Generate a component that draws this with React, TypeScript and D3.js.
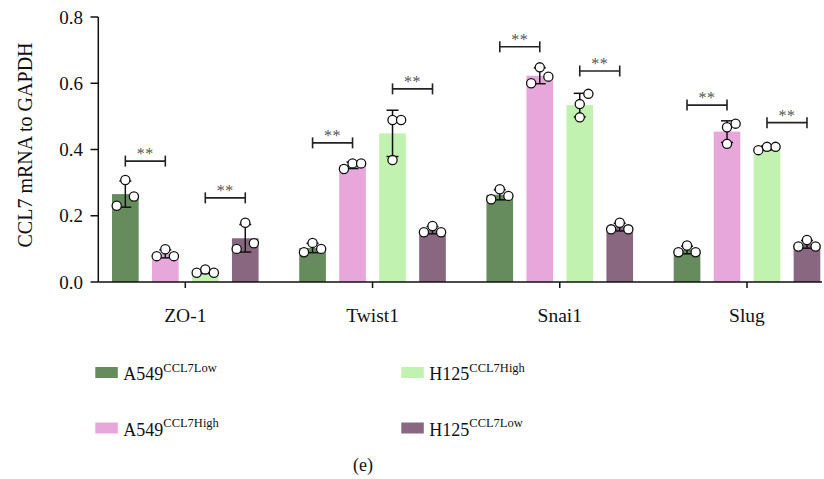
import * as d3 from "d3";

const genes = ["ZO-1", "Twist1", "Snai1", "Slug"];
const seriesCell = ["A549", "A549", "H125", "H125"];
const seriesTag = ["CCL7Low", "CCL7High", "CCL7High", "CCL7Low"];
const seriesColors = ["#668b5d", "#e8a7db", "#c2f2b0", "#8a6780"];

// replicate values, one array per gene, one triplet per series
const zo1 = [
  [0.23, 0.308, 0.258],
  [0.078, 0.099, 0.078],
  [0.028, 0.038, 0.028],
  [0.1, 0.179, 0.117],
];
const twist1 = [
  [0.09, 0.118, 0.1],
  [0.341, 0.358, 0.358],
  [0.489, 0.489, 0.368],
  [0.15, 0.169, 0.15],
];
const snai1 = [
  [0.25, 0.28, 0.26],
  [0.6, 0.648, 0.62],
  [0.537, 0.568, 0.497],
  [0.159, 0.179, 0.159],
];
const slug = [
  [0.09, 0.11, 0.09],
  [0.467, 0.478, 0.417],
  [0.398, 0.408, 0.408],
  [0.107, 0.127, 0.107],
];
const replicates = [zo1, twist1, snai1, slug];

// horizontal slot of each replicate dot (-1 left, 0 centre, 1 right)
const defaultSlots = [-1, 0, 1];
const stackedSlots = [0, 1, 0];
const slotOverrides: Record<string, number[]> = {
  "Twist1-2": stackedSlots,
  "Snai1-2": stackedSlots,
  "Slug-1": stackedSlots,
};

// significance brackets: [gene, from series, to series, level]
const brackets: [string, number, number, number][] = [
  ["ZO-1", 0, 1, 0.365],
  ["ZO-1", 2, 3, 0.254],
  ["Twist1", 0, 1, 0.42],
  ["Twist1", 2, 3, 0.583],
  ["Snai1", 0, 1, 0.71],
  ["Snai1", 2, 3, 0.637],
  ["Slug", 0, 1, 0.534],
  ["Slug", 2, 3, 0.481],
];

const yTicks = [0, 0.2, 0.4, 0.6, 0.8];

const font = "'Liberation Serif', 'Times New Roman', serif";

export default function App() {
  const width = 824;
  const height = 479;

  const y = d3.scaleLinear().domain([0, 0.8]).range([282, 17]);
  const x0 = d3.scalePoint<string>().domain(genes).range([185.3, 747]);
  const x1 = d3
    .scaleBand<number>()
    .domain(d3.range(seriesCell.length))
    .range([-73.3, 73.3])
    .paddingInner(1 / 3);

  const bw = x1.bandwidth();
  const dotR = 4.6;
  const jitter = 8.6;
  const capW = 6;

  return (
    <svg
      width={width}
      height={height}
      style={{ position: "absolute", left: 0, top: 0, background: "#fff" }}
      fontFamily={font}
    >
      {/* bars + error bars + dots */}
      {genes.map((g, gi) => (
        <g key={g} transform={`translate(${x0(g)},0)`}>
          {replicates[gi].map((vals, si) => {
            const mean = d3.mean(vals) ?? 0;
            const sd = d3.deviation(vals) ?? 0;
            const cx = (x1(si) ?? 0) + bw / 2;
            const slots = slotOverrides[`${g}-${si}`] ?? defaultSlots;
            return (
              <g key={si}>
                <rect
                  x={x1(si)}
                  y={y(mean)}
                  width={bw}
                  height={y(0) - y(mean)}
                  fill={seriesColors[si]}
                />
                <g stroke="#111" strokeWidth={1.5}>
                  <line x1={cx} x2={cx} y1={y(mean - sd)} y2={y(mean + sd)} />
                  <line
                    x1={cx - capW}
                    x2={cx + capW}
                    y1={y(mean + sd)}
                    y2={y(mean + sd)}
                  />
                  <line
                    x1={cx - capW}
                    x2={cx + capW}
                    y1={y(mean - sd)}
                    y2={y(mean - sd)}
                  />
                </g>
                {vals.map((v, vi) => (
                  <circle
                    key={vi}
                    cx={cx + slots[vi] * jitter}
                    cy={y(v)}
                    r={dotR}
                    fill="#fff"
                    stroke="#111"
                    strokeWidth={1.3}
                  />
                ))}
              </g>
            );
          })}
        </g>
      ))}

      {/* significance brackets */}
      {brackets.map(([g, a, b, lvl], i) => {
        const xa = (x0(g) ?? 0) + (x1(a) ?? 0) + bw / 2;
        const xb = (x0(g) ?? 0) + (x1(b) ?? 0) + bw / 2;
        const yy = y(lvl);
        return (
          <g key={i}>
            <g stroke="#222" strokeWidth={1.6}>
              <line x1={xa} x2={xb} y1={yy} y2={yy} />
              <line x1={xa} x2={xa} y1={yy - 5.5} y2={yy + 5.5} />
              <line x1={xb} x2={xb} y1={yy - 5.5} y2={yy + 5.5} />
            </g>
            <text
              x={(xa + xb) / 2}
              y={yy - 2}
              textAnchor="middle"
              fontSize={16}
              fill="#555"
              letterSpacing={0.5}
            >
              **
            </text>
          </g>
        );
      })}

      {/* axes */}
      <g stroke="#111" strokeWidth={1.5}>
        <line x1={98.3} x2={98.3} y1={y(0.8)} y2={y(0)} />
        <line x1={98.3} x2={822} y1={y(0)} y2={y(0)} />
        {yTicks.map((t) => (
          <line key={t} x1={90.5} x2={98.3} y1={y(t)} y2={y(t)} />
        ))}
        {genes.map((g) => (
          <line key={g} x1={x0(g)} x2={x0(g)} y1={y(0)} y2={y(0) + 6} />
        ))}
      </g>
      {yTicks.map((t) => (
        <text
          key={t}
          x={83}
          y={y(t)}
          dy="0.35em"
          textAnchor="end"
          fontSize={19}
          fill="#111"
        >
          {d3.format(".1f")(t)}
        </text>
      ))}
      {genes.map((g) => (
        <text
          key={g}
          x={x0(g)}
          y={322}
          textAnchor="middle"
          fontSize={19.5}
          fill="#111"
        >
          {g}
        </text>
      ))}
      <text
        transform={`translate(32,145) rotate(-90)`}
        textAnchor="middle"
        fontSize={20}
        fill="#111"
      >
        CCL7 mRNA to GAPDH
      </text>

      {/* legend: column-major, two rows */}
      {seriesCell.map((cell, si) => {
        const col = Math.floor(si / 2);
        const row = si % 2;
        const lx = 95.3 + col * 306;
        const ly = 367 + row * 55.5;
        return (
          <g key={si} transform={`translate(${lx},${ly})`}>
            <rect width={22.5} height={11} fill={seriesColors[si]} />
            <text x={28} y={13} fontSize={18} fill="#111">
              {cell}
              <tspan fontSize={12.5} dy={-8.5}>
                {seriesTag[si]}
              </tspan>
            </text>
          </g>
        );
      })}

      <text x={363} y={471} textAnchor="middle" fontSize={18} fill="#111">
        (e)
      </text>
    </svg>
  );
}
